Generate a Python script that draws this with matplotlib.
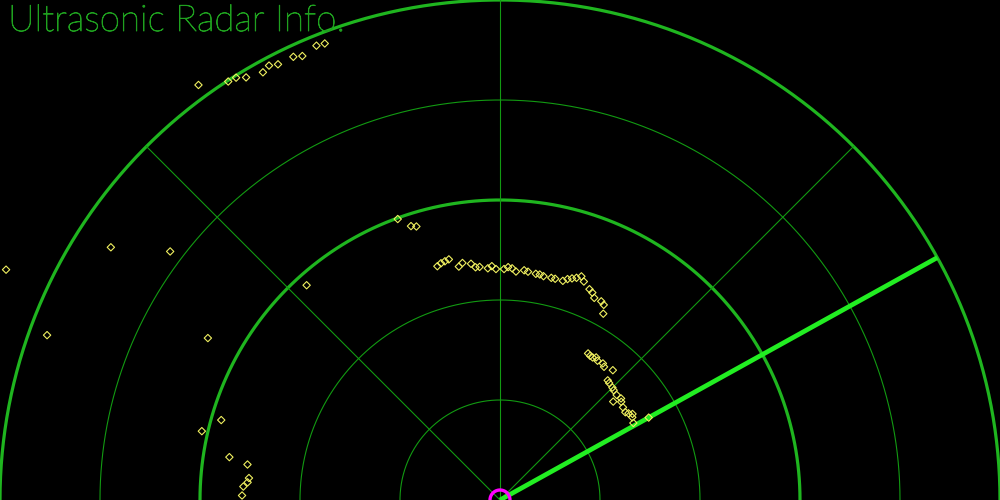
import numpy as np
import matplotlib
matplotlib.use('Agg')
import matplotlib.pyplot as plt
import matplotlib.patheffects as pe

# radar readings: angle (deg) and distance (cm)
angles = [126, 123, 122, 121, 119, 118, 117, 115, 114, 112, 111,
          155, 147, 143, 160, 151, 132,
          164, 167, 171, 172, 175, 176, 177, 179,
          110, 108, 107,
          105, 104, 103, 102, 100, 99, 97, 96, 95, 93, 92, 91,
          89, 88, 87, 86, 84, 83, 81, 80, 79, 77, 76, 74, 73, 72, 71,
          70, 69, 67, 66, 65, 63, 62, 61,
          59, 58, 57, 56, 55, 53, 52, 49, 48, 47, 45, 44, 42, 41, 40,
          39, 37, 35, 34, 33, 32, 30, 29]
distances = [51.3, 49.9, 49.8, 49.3, 48.9, 49.2, 48.9, 48.9, 48.6, 49.0, 48.9,
             54.5, 46.4, 41.3, 48.2, 33.4, 28.9,
             29.0, 30.6, 27.4, 25.5, 25.2, 25.3, 25.7, 25.8,
             29.9, 28.8, 28.6,
             24.2, 24.4, 24.5, 24.6, 23.7, 24.0, 23.8, 23.4, 23.4, 23.2, 23.4, 23.1,
             23.1, 23.3, 23.2, 22.9, 23.1, 23.0, 22.9, 22.9, 22.8, 22.8, 22.8, 22.8, 23.1, 23.3, 23.5,
             23.8, 23.4, 22.9, 22.7, 22.3, 22.3, 22.1, 21.3,
             17.1, 17.0, 17.0, 17.2, 17.0, 17.1, 16.9, 17.2, 16.1, 16.0, 15.9, 15.8, 15.7, 15.0, 15.8,
             15.6, 15.4, 15.3, 15.5, 15.8, 15.6, 15.4, 17.0]

ring_thin = [10, 20, 40]
ring_thick = [30, 50]
spoke_angles = [45, 90, 135]
sweep_angle = 29
max_range = 50
title = "Ultrasonic Radar Info."

fig = plt.figure(figsize=(10, 5), dpi=100, facecolor='black')
ax = fig.add_axes([0, 0, 1, 1])
ax.set_facecolor('black')
ax.set_xlim(-50, 50)
ax.set_ylim(0, 50)
ax.set_aspect('equal')
ax.axis('off')

t = np.linspace(0, np.pi, 400)
for r in ring_thin:
    ax.plot(r * np.cos(t), r * np.sin(t), color='#129a12', lw=0.8)
for r in ring_thick:
    ax.plot(r * np.cos(t), r * np.sin(t), color='#1fb51f', lw=2.3)

for a in spoke_angles:
    a = np.radians(a)
    ax.plot([0, max_range * np.cos(a)], [0, max_range * np.sin(a)], color='#129a12', lw=0.8)

sa = np.radians(sweep_angle)
ax.plot([0, max_range * np.cos(sa)], [0, max_range * np.sin(sa)], color='#22ee22', lw=3.4,
        solid_capstyle='butt')

th = np.radians(angles)
d = np.array(distances)
ax.scatter(d * np.cos(th), d * np.sin(th), marker='D', s=14, facecolors='none',
           edgecolors='#f0f060', linewidths=0.8, zorder=5)

ax.plot(1.0 * np.cos(t), 1.0 * np.sin(t), color='#ff00ff', lw=2.4, zorder=6)

ax.text(-49.2, 46.9, title, color='#1fa01f', fontsize=26.5, family='Lato',
        fontweight='light', ha='left', va='baseline',
        path_effects=[pe.withStroke(linewidth=0.6, foreground='#1fa01f')])

fig.savefig('out.png', dpi=100, facecolor='black')
